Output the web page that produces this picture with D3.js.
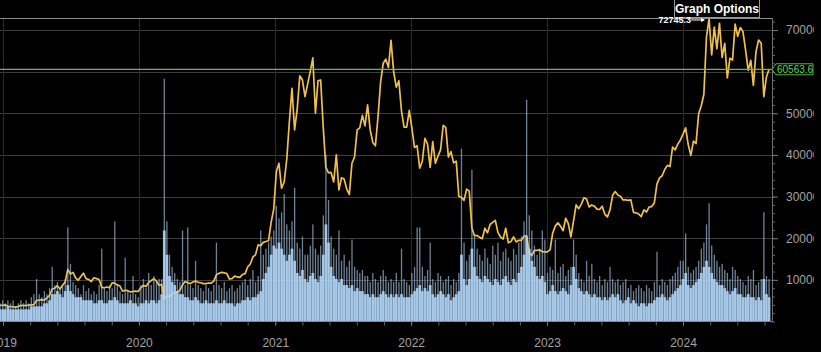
<!DOCTYPE html>
<html><head><meta charset="utf-8">
<script src="https://cdn.jsdelivr.net/npm/d3@7"></script>
<style>
html,body{margin:0;padding:0;background:#000;overflow:hidden;}
svg{display:block;font-family:Arial,"Liberation Sans",sans-serif;}
</style></head><body>
<svg id="chart" width="821" height="352"></svg>
<script>
// Weekly samples; each yearly array starts on the Monday given in weekStarts
const weekStarts = ["2018-12-24","2020-01-06","2021-01-04","2022-01-03","2023-01-02","2024-01-01"];

const price2019 = [3900,3850,4000,3650,3600,3500,3450,3600,3900,3800,3850,3950,4000,4050,5050,5100,5250,5150,5700,6300,7800,8000,8600,7800,8700,9500,12500,11400,11800,10500,9900,10800,11600,10300,10100,9600,10500,10300,10100,8200,8100,8300,8100,9300,9200,8800,8500,7300,7500,7400,7100,7200,7300,7200];
const price2020 = [8100,8700,8400,9400,9800,10300,9700,8700,8900,5400,6200,5900,6800,6900,7100,7500,8800,9600,9300,9100,9500,9700,9400,9300,9100,9100,9250,9200,9700,11200,11600,11800,11700,11500,10200,10300,10900,10700,10600,11300,11500,13100,13800,15500,16000,18400,18200,19000,19200,19400,23800,27000];
const price2021 = [36000,38000,32000,33500,39000,48000,56000,46000,51000,59000,58000,54000,57000,60000,63300,50000,57800,58000,46500,37000,35700,35800,33500,40000,31600,34500,34200,31800,30500,38000,39500,46000,46500,49500,47000,52000,46000,43000,42200,49100,57500,62000,63000,61000,67500,60000,56300,57800,50600,46700,46700,50700];
const price2022 = [46400,41800,42200,36800,38500,44000,42600,37000,43200,38000,39700,41200,47100,46600,39500,40800,38100,38500,30100,29800,29100,31800,31300,22500,20600,20700,20200,19900,22400,21300,23300,23800,24300,21400,20300,19800,22400,18900,19200,20300,19100,19500,19500,20500,20600,16600,15800,17100,17100,17200,16800,16700];
const price2023 = [16700,17200,21200,22900,23700,22900,21800,24800,23500,20300,24100,28000,27100,28200,29700,29400,27500,28000,27700,27000,26900,27700,25800,25100,26800,30300,31200,30400,30100,29200,29200,29100,29200,26200,26100,25800,25200,26800,26300,27500,27600,28500,33000,34500,35000,36500,37500,37200,41900,41200,42600,43600];
const price2024 = [45000,46500,42500,39900,43300,42700,49900,51800,54500,68300,72745.3,64000,70700,65500,71600,63400,66800,58500,63200,62800,71400,68500,70600,69600,65200,60300,62700,56700,64800,67600,66800,54000,58700,60563.6];

// Volume (relative units): typical weekly level and the week's largest daily spike
const volBase2019 = [4,4,4,5,4,4,4,4,4,4,4,4,5,5,5,5,5,6,6,7,9,9,10,9,8,10,12,10,9,8,8,8,7,7,7,7,6,6,7,7,6,6,7,7,8,7,6,6,6,6,7,6,6,5];
const volPeak2019 = [6,7,6,7,6,7,5,6,7,6,7,6,8,9,14,9,8,10,9,11,18,12,13,11,12,14,31,19,13,12,11,9,12,10,11,9,10,9,12,24,11,10,12,11,33,12,10,9,21,10,9,15,9,8];
const volBase2020 = [6,6,7,6,7,7,6,7,9,30,22,15,13,12,10,9,9,8,8,7,7,8,7,6,6,7,6,6,6,7,6,6,7,6,6,6,5,6,6,7,7,8,7,8,8,9,10,14,16,18,22,25];
const volPeak2020 = [12,14,11,16,12,15,13,14,14,80,33,22,18,16,14,13,30,12,31,12,11,20,12,11,10,12,11,10,12,26,12,11,13,10,11,12,10,11,12,13,14,12,14,17,13,15,30,22,24,26,28,30];
const volBase2021 = [24,26,24,22,20,22,24,20,16,15,17,14,13,15,16,14,13,15,22,32,26,18,15,14,13,14,12,12,11,12,10,11,10,10,9,9,8,9,8,8,9,10,9,8,9,8,9,8,9,8,8,8];
const volPeak2021 = [38,34,36,42,32,30,33,44,26,24,28,22,22,25,32,24,22,25,35,55,40,28,24,22,30,20,22,18,20,27,18,17,16,17,15,15,13,16,14,13,15,17,15,13,14,13,16,13,24,14,13,12];
const volBase2022 = [9,10,11,12,10,11,10,12,9,8,9,10,9,8,9,7,8,9,10,22,14,12,14,24,18,15,14,13,15,14,13,12,14,13,12,14,15,13,12,14,13,16,18,22,28,24,20,18,15,14,15,13];
const volPeak2022 = [16,18,31,31,18,15,17,26,14,13,16,15,13,14,15,12,14,13,16,57,26,20,22,50,28,24,22,20,24,21,19,25,22,26,20,23,24,21,20,24,22,26,28,33,73,35,30,25,22,24,30,27];
const volBase2023 = [9,10,12,10,9,10,11,10,9,12,18,14,11,10,9,10,9,8,9,8,8,7,8,7,8,9,8,9,7,6,7,8,6,7,6,5,6,6,5,6,6,7,8,8,9,8,7,8,9,10,11,12];
const volPeak2023 = [16,18,17,27,16,18,19,15,17,18,27,22,16,14,13,20,15,19,14,13,15,12,14,13,18,14,13,14,12,13,14,11,12,10,11,12,11,10,12,11,10,13,23,12,14,13,12,14,15,16,18,20];
const volBase2024 = [14,16,12,11,12,13,14,16,18,20,18,16,14,13,12,12,11,10,9,10,11,9,9,8,8,9,8,8,7,8,7,14,9,8];
const volPeak2024 = [20,29,18,16,17,18,20,24,26,32,39,25,22,20,18,19,17,16,14,18,17,15,14,13,12,15,14,17,12,13,14,36,15,14];

const years = ["2019","2020","2021","2022","2023","2024"];
const priceTicks = [10000,20000,30000,40000,50000,60000,70000];

const priceByYear = [price2019,price2020,price2021,price2022,price2023,price2024];
const baseByYear = [volBase2019,volBase2020,volBase2021,volBase2022,volBase2023,volBase2024];
const peakByYear = [volPeak2019,volPeak2020,volPeak2021,volPeak2022,volPeak2023,volPeak2024];

const parse = d3.timeParse("%Y-%m-%d");
const data = [];
weekStarts.forEach((s,k)=>{
  const d0 = parse(s);
  priceByYear[k].forEach((p,i)=>{
    data.push({date:d3.timeDay.offset(d0,7*i), price:p, base:baseByYear[k][i], peak:peakByYear[k][i]});
  });
});

const plotL=0, plotR=772, plotT=18, plotB=321.5, chartR=814;
const x = d3.scaleTime().domain([parse("2019-01-01"),parse("2024-01-01")]).range([3,683]);
const y = d3.scaleLinear().domain([0,70000]).range([plotB,30]);
const yv = d3.scaleLinear().domain([0,100]).range([plotB,plotT]);

const svg = d3.select("#chart");
svg.append("rect").attr("width",821).attr("height",352).attr("fill","#000");

const defs = svg.append("defs");
defs.append("clipPath").attr("id","plotclip").append("rect")
  .attr("x",plotL).attr("y",plotT).attr("width",plotR-plotL).attr("height",plotB-plotT);
defs.append("clipPath").attr("id","chartclip").append("rect")
  .attr("x",0).attr("y",0).attr("width",chartR).attr("height",352);

const root = svg.append("g").attr("clip-path","url(#chartclip)");

// grid
root.append("g").selectAll("line").data(priceTicks).join("line")
  .attr("x1",plotL).attr("x2",plotR).attr("y1",d=>Math.round(y(d))+0.5).attr("y2",d=>Math.round(y(d))+0.5)
  .attr("stroke","#3d3d3d").attr("stroke-width",1);
root.append("g").selectAll("line").data(years).join("line")
  .attr("x1",d=>Math.round(x(parse(d+"-01-01")))+0.5).attr("x2",d=>Math.round(x(parse(d+"-01-01")))+0.5)
  .attr("y1",plotT).attr("y2",plotB)
  .attr("stroke","#272727").attr("stroke-width",1);

const plot = root.append("g").attr("clip-path","url(#plotclip)");

// price line
const line = d3.line().x(d=>x(d.date)).y(d=>y(d.price));
plot.append("path").datum(data).attr("d",line)
  .attr("fill","none").attr("stroke","#f0c04a").attr("stroke-width",1.7).attr("stroke-linejoin","round");

// volume
const step = x(parse("2019-01-08")) - x(parse("2019-01-01"));
plot.append("g").selectAll("rect").data(data).join("rect")
  .attr("x",d=>x(d.date)-0.6).attr("width",1.3)
  .attr("y",d=>yv(d.peak)).attr("height",d=>plotB-yv(d.peak))
  .attr("fill","#a8c8e6").attr("opacity",0.65);
plot.append("g").selectAll("rect").data(data).join("rect")
  .attr("x",d=>x(d.date)-step/2).attr("width",step+0.1)
  .attr("y",d=>yv(d.base)).attr("height",d=>plotB-yv(d.base))
  .attr("fill","#b0d4f5").attr("opacity",0.9);

// last price line
const last = data[data.length-1];
const ly = y(last.price);
root.append("line").attr("x1",plotL).attr("x2",plotR).attr("y1",ly).attr("y2",ly)
  .attr("stroke","#5bbf4a").attr("stroke-width",1.2);

// frame
root.append("line").attr("x1",plotL).attr("x2",plotR).attr("y1",plotT+0.5).attr("y2",plotT+0.5).attr("stroke","#8c8c8c");
root.append("line").attr("x1",plotR+0.5).attr("x2",plotR+0.5).attr("y1",plotT).attr("y2",plotB).attr("stroke","#6f6f6f");
root.append("line").attr("x1",plotL).attr("x2",plotR).attr("y1",plotB).attr("y2",plotB).attr("stroke","#8a8a8a");

// y axis (the tick label under the last-price tag is hidden, as in the original)
const yMinor = root.append("g").attr("transform",`translate(${plotR},0)`)
  .call(d3.axisRight(y).tickValues(d3.range(0,74000,2000)).tickSize(3).tickFormat(""));
yMinor.select(".domain").remove();
yMinor.selectAll("line").attr("stroke","#666");
const yAxis = root.append("g").attr("transform",`translate(${plotR},0)`)
  .call(d3.axisRight(y).tickValues(priceTicks).tickSize(6).tickPadding(8).tickFormat(d3.format("d")));
yAxis.select(".domain").remove();
yAxis.selectAll("line").attr("stroke","#777");
yAxis.selectAll("text").attr("fill","#a2a2a2").attr("font-size",12).attr("font-family","Arial, Liberation Sans, sans-serif");
yAxis.selectAll(".tick").filter(d=>Math.abs(y(d)-ly)<10).select("text").remove();

// x axis
const minorDates = [];
years.forEach(yr=>{const d0=parse(yr+"-01-01"); for(let k=0;k<5;k++){const d=d3.timeDay.offset(d0,Math.round(k*73)); if(x(d)<=plotR) minorDates.push(d);}});
const xMinor = root.append("g").attr("transform",`translate(0,${plotB})`)
  .call(d3.axisBottom(x).tickValues(minorDates).tickSize(4).tickFormat(""));
xMinor.select(".domain").remove();
xMinor.selectAll("line").attr("stroke","#666");
const xAxis = root.append("g").attr("transform",`translate(0,${plotB})`)
  .call(d3.axisBottom(x).tickValues(years.map(s=>parse(s+"-01-01"))).tickSize(4).tickPadding(13).tickFormat(d3.timeFormat("%Y")));
xAxis.select(".domain").remove();
xAxis.selectAll("line").attr("stroke","#777");
xAxis.selectAll("text").attr("fill","#a2a2a2").attr("font-size",12).attr("font-family","Arial, Liberation Sans, sans-serif");

// last price label
root.append("path")
  .attr("d",`M${plotR},${ly} L${plotR+4},${ly-5.5} L813,${ly-5.5} L813,${ly+5.5} L${plotR+4},${ly+5.5} Z`)
  .attr("fill","#000").attr("stroke","#4cb843").attr("stroke-width",1);
root.append("text").attr("x",plotR+5).attr("y",ly+3.6).attr("font-size",10).attr("fill","#5fd35a")
  .text(d3.format(".1f")(last.price));

// Graph Options button
root.append("rect").attr("x",674.5).attr("y",-1).attr("width",85).attr("height",18.5)
  .attr("fill","#000").attr("stroke","#9a9a9a");
root.append("text").attr("x",717).attr("y",13).attr("text-anchor","middle")
  .attr("font-size",12).attr("font-weight","bold").attr("fill","#fff").text("Graph Options");

// peak annotation
const peak = data.reduce((a,b)=>b.price>a.price?b:a);
const px = x(peak.date), py = y(peak.price);
root.append("text").attr("x",px-18).attr("y",py+4.5).attr("text-anchor","end")
  .attr("font-size",9).attr("font-weight","bold").attr("fill","#fff").text(d3.format(".1f")(peak.price));
root.append("line").attr("x1",px-18).attr("x2",px-5).attr("y1",py+1.4).attr("y2",py+1.4).attr("stroke","#fff").attr("stroke-width",1);
root.append("path").attr("d",`M${px-4},${py+1.4} L${px-8},${py-0.6} L${px-8},${py+3.4} Z`).attr("fill","#fff");
</script>
</body></html>
